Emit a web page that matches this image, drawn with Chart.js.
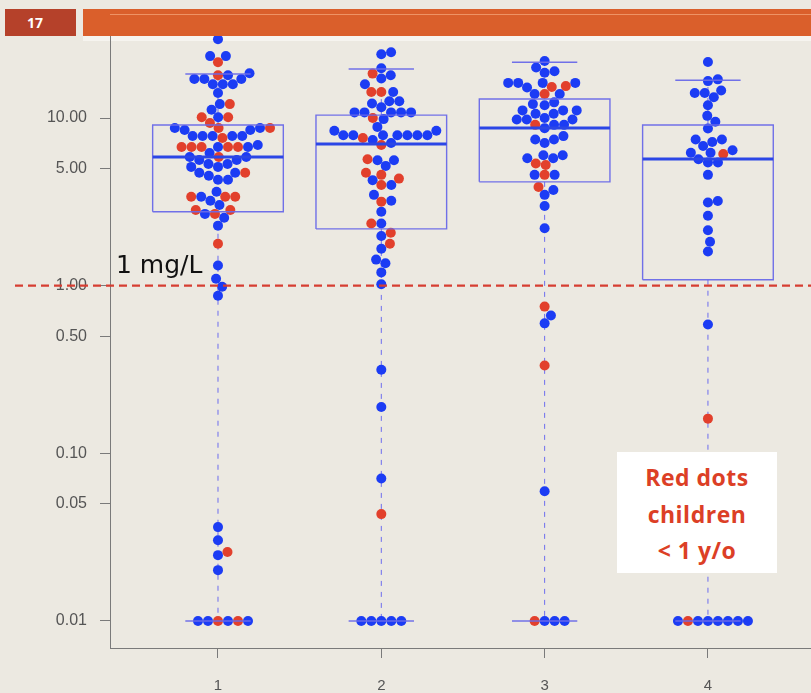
<!DOCTYPE html>
<html>
<head>
<meta charset="utf-8">
<script src="https://cdn.jsdelivr.net/npm/chart.js@4.4.1/dist/chart.umd.min.js"></script>
<style>
  html, body { margin:0; padding:0; background:#ece9e1; }
  #wrap { position:relative; width:811px; height:693px; overflow:hidden; background:#ece9e1; }
  canvas { position:absolute; left:0; top:0; z-index:1; }
  #numbox { position:absolute; left:5px; top:9px; width:71px; height:27px; background:#b5412a; color:#fff;
            font:bold 14px "Open Sans", sans-serif; line-height:27px; padding-left:22px; box-sizing:border-box; z-index:3; }
  #bar { position:absolute; left:83px; top:9px; right:0; height:27px; background:#da5f2b; z-index:3; }
  #barline { position:absolute; left:110px; top:14px; right:0; height:1px; background:rgba(255,190,150,0.55); z-index:4; }
  #white { position:absolute; left:83px; top:36px; right:0; height:5px; background:#f6f4ef; z-index:0; }
  #legend { position:absolute; left:617px; top:452px; width:160px; height:121px; background:#ffffff; z-index:3;
            color:#dc3f26; font:bold 23px "Open Sans", sans-serif; text-align:center; line-height:36.5px;
            padding-top:7px; box-sizing:border-box; letter-spacing:0.5px; }
</style>
</head>
<body>
<div id="wrap">
  <div id="white"></div>
  <canvas id="c" width="811" height="693"></canvas>
  <div id="numbox">17</div>
  <div id="bar"></div>
  <div id="barline"></div>
  <div id="legend">Red dots<br>children<br>&lt; 1 y/o</div>
</div>
<script>
// ---------------- data ----------------
const categories = ['1', '2', '3', '4'];
const yTickValues = [0.01, 0.05, 0.1, 0.5, 1, 5, 10];
const thresholdValue = 1;          // 1 mg/L reference line
const thresholdLabel = '1 mg/L';

// values per group (ascending), and colour flags: R = child < 1 y/o, B = other
const g1Values = [0.01,0.01,0.01,0.01,0.01,0.01, 0.0201,0.0247,0.0258,0.0303,0.0363,
  0.87,0.986,1.10,1.32,1.78,2.28, 2.54,2.68,2.68,2.83,2.83,3.03,3.21,
  3.39,3.39,3.39,3.39, 3.63, 4.28,4.28, 4.52, 4.71,4.71,4.71, 5.11,5.11, 5.32,5.32, 5.62,5.62,
  5.86,5.86,5.86, 6.19, 6.72,6.72,6.72,6.72,6.72,6.72,6.72, 6.91, 7.60, 7.81,7.81,7.81,7.81,7.81,
  8.48,8.48, 8.72,8.72,8.72,8.72, 9.34, 10.1,10.1,10.1, 11.2, 12.1,12.1, 14.1,
  15.9,15.9,15.9, 17.1,17.1,17.1, 18.0,18.0, 18.5, 21.5, 23.4,23.4, 29.5];
const g1Colors = ['R','B','B','R','B','B', 'B','B','R','B','B',
  'B','B','B','B','R','B', 'B','R','B','R','R','B','B',
  'R','B','R','R', 'B', 'B','B', 'B', 'B','B','R', 'B','B', 'B','B', 'B','B',
  'R','B','B', 'B', 'B','R','R','R','R','B','R', 'B', 'R', 'B','B','B','B','B',
  'B','B', 'R','B','B','R', 'R', 'B','R','R', 'B', 'B','R', 'B',
  'B','B','B', 'B','B','B', 'R','B', 'B', 'R', 'B','B', 'B'];

const g2Values = [0.01,0.01,0.01,0.01,0.01, 0.0434,0.0707,0.189,0.315,
  1.02,1.2,1.36,1.43,1.66,1.78,1.98,2.07,2.35,2.35,
  2.76,3.17,3.21,3.48,3.98,3.98,4.26,4.35,4.58,4.72,
  5.18,5.6,5.6,5.67, 6.9,7.1,7.4,7.6, 7.9,7.9,7.9,7.9,7.9,7.9,7.9,
  8.4,8.4,8.85, 9.85,10.0, 10.8,10.8,10.8,10.8,10.8, 11.6,12.2,12.6,12.6,
  14.3,14.3,14.3, 15.9,17.2,18.0,18.4,19.8,24.0,24.7];
const g2Colors = ['B','B','B','B','B', 'R','B','B','B',
  'B','B','B','B','B','R','B','R','B','R',
  'B','R','B','B','R','B','B','R','R','R',
  'B','B','B','R', 'R','B','B','R', 'B','B','B','B','B','B','B',
  'B','B','B', 'B','R', 'B','B','B','B','B', 'B','B','B','B',
  'R','R','B', 'B','B','B','R','B','B','B'];

const g3Values = [0.01,0.01,0.01,0.01, 0.0594,0.334,0.596,0.663,0.75,
  2.2,2.99,3.48,3.72,3.88, 4.58,4.58,4.58, 5.25,5.35, 5.75,5.75,6.0,6.0,
  7.1,7.45,7.45,7.8, 8.7,9.1,9.1,9.1, 9.8,9.8,9.8,10.0, 10.6,10.6,11.1,11.1,11.1,
  11.9,12.1,12.4, 13.9,13.9,13.9, 15.2,15.3,15.5,16.2,16.2,16.2,16.2, 18.6,19.0,20.0,21.9];
const g3Colors = ['B','B','R','B', 'B','R','B','B','R',
  'B','B','B','B','R', 'R','B','B', 'R','R', 'B','B','B','B',
  'B','B','B','B', 'B','B','R','B', 'B','B','B','B', 'B','B','B','B','B',
  'B','B','B', 'R','B','B', 'B','R','R','B','B','B','B', 'B','B','B','B'];

const g4Values = [0.01,0.01,0.01,0.01,0.01,0.01,0.01,0.01, 0.161,0.586,
  1.6,1.83,2.14,2.61,3.13,3.2,4.58, 5.43,5.43,5.67, 6.1,6.2,6.2,6.42,
  6.8,7.2,7.45,7.45, 8.66,9.5,10.3,11.9, 13.3,14.1,14.1,14.6, 16.6,17.0,21.6];
const g4Colors = ['B','B','B','B','R','B','B','B', 'R','B',
  'B','B','B','B','B','B','B', 'B','B','B', 'R','B','B','B',
  'B','B','B','B', 'B','B','B','B', 'B','B','B','B', 'B','B','B'];

// box-plot statistics
const boxLow    = [0.01, 0.01, 0.01, 0.01];
const boxQ1     = [2.76, 2.18, 4.16, 1.085];
const boxMedian = [5.86, 7.0, 8.72, 5.70];
const boxQ3     = [9.09, 10.4, 12.97, 9.09];
const boxHigh   = [18.3, 19.6, 21.5, 16.8];

// ---------------- styles ----------------
const BLUE = '#1c3cf4';
const RED = '#e2402c';
const BOXC = 'rgba(105,105,232,0.95)';
const MEDC = '#2b46e6';
const WHISK = 'rgba(95,95,240,0.9)';
const AXISC = '#7a7a7a';
const LABELC = '#555555';
const DOT = 10;   // dot diameter in px for swarm spacing

const groups = [
  {v: g1Values, c: g1Colors},
  {v: g2Values, c: g2Colors},
  {v: g3Values, c: g3Colors},
  {v: g4Values, c: g4Colors}
];

const refLinePlugin = {
  id: 'refLine',
  afterDraw(chart) {
    const ctx = chart.ctx, y = chart.scales.y.getPixelForValue(thresholdValue);
    const a = chart.chartArea;
    ctx.save();
    ctx.strokeStyle = 'rgb(214,62,50)';
    ctx.lineWidth = 2.4;
    ctx.setLineDash([8, 5]);
    ctx.beginPath();
    ctx.moveTo(15, y);
    ctx.lineTo(chart.width, y);
    ctx.stroke();
    ctx.setLineDash([]);
    ctx.fillStyle = '#111';
    ctx.font = '25px "DejaVu Sans", sans-serif';
    ctx.textBaseline = 'alphabetic';
    ctx.textAlign = 'left';
    ctx.fillText(thresholdLabel, a.left + 6, y - 13);
    ctx.restore();
  }
};

const ctx = document.getElementById('c').getContext('2d');
const chart = new Chart(ctx, {
  type: 'scatter',
  data: { datasets: [] },
  options: {
    responsive: false,
    animation: false,
    events: [],
    layout: { autoPadding: false, padding: { top: 15, left: 0, right: 0, bottom: 0 } },
    plugins: { legend: { display: false }, tooltip: { enabled: false } },
    scales: {
      x: {
        type: 'linear', min: 0.3388, max: 4.631,
        afterFit: s => { s.height = 45; s.paddingLeft = 0; s.paddingRight = 0; },
        afterBuildTicks: s => { s.ticks = categories.map((c, i) => ({ value: i + 1 })); },
        grid: { drawOnChartArea: false, drawTicks: true, tickLength: 10, color: AXISC },
        border: { display: true, color: AXISC, width: 1 },
        ticks: { color: LABELC, padding: 19, font: { family: '"Liberation Sans", Arial, sans-serif', size: 15 },
                 callback: v => categories[Math.round(v) - 1] }
      },
      y: {
        type: 'logarithmic', min: 0.0069, max: 41.15,
        afterFit: s => { s.width = 110; s.paddingTop = 0; s.paddingBottom = 0; },
        afterBuildTicks: s => { s.ticks = yTickValues.map(v => ({ value: v })); },
        grid: { drawOnChartArea: false, drawTicks: true, tickLength: 10, color: AXISC },
        border: { display: true, color: AXISC, width: 1 },
        ticks: { color: LABELC, padding: 13, font: { family: '"Liberation Sans", Arial, sans-serif', size: 16 },
                 callback: v => Number(v).toFixed(2) }
      }
    }
  },
  plugins: [refLinePlugin]
});

function swarm(values, colors, ys) {
  const pts = values.map((v, i) => ({ v, red: colors[i] === 'R', py: ys.getPixelForValue(v), off: 0 }));
  const order = pts.slice().sort((a, b) => a.v - b.v);
  const placed = [];
  for (const p of order) {
    const near = placed.filter(q => Math.abs(q.py - p.py) < DOT);
    if (near.length) {
      near.sort((a, b) => Math.abs(a.off) - Math.abs(b.off));
      const cands = [0];
      near.forEach(q => { const dy = p.py - q.py; cands.push(q.off + Math.sqrt(DOT * DOT - dy * dy)); });
      near.forEach(q => { const dy = p.py - q.py; cands.push(q.off - Math.sqrt(DOT * DOT - dy * dy)); });
      let best = 0, bestAbs = Infinity;
      for (const c of cands) {
        const bad = near.some(q => (c - q.off) ** 2 + (p.py - q.py) ** 2 < 0.999 * DOT * DOT);
        if (!bad && Math.abs(c) < bestAbs) { bestAbs = Math.abs(c); best = c; }
      }
      p.off = best;
    }
    placed.push(p);
  }
  return pts;
}

function buildDatasets() {
  const xs = chart.scales.x, ys = chart.scales.y;
  const pxPerUnit = xs.getPixelForValue(1) - xs.getPixelForValue(0);
  const blue = [], red = [];
  groups.forEach((g, gi) => {
    swarm(g.v, g.c, ys).forEach(p => {
      const pt = { x: gi + 1 + p.off / pxPerUnit, y: p.v };
      (p.red ? red : blue).push(pt);
    });
  });
  const ds = [];
  const line = (data, color, width, dash) => ({
    data, showLine: true, borderColor: color, borderWidth: width, borderDash: dash || [],
    pointRadius: 0, fill: false, tension: 0
  });
  const HW = 0.4, CW = 0.2;
  categories.forEach((c, i) => {
    const x = i + 1;
    ds.push(line([{x: x - HW, y: boxMedian[i]}, {x: x + HW, y: boxMedian[i]}], MEDC, 3));
    ds.push(line([{x: x - HW, y: boxQ1[i]}, {x: x + HW, y: boxQ1[i]}, {x: x + HW, y: boxQ3[i]},
                  {x: x - HW, y: boxQ3[i]}, {x: x - HW, y: boxQ1[i]}], BOXC, 1.4));
    ds.push(line([{x: x - CW, y: boxHigh[i]}, {x: x + CW, y: boxHigh[i]}], BOXC, 1.4));
    ds.push(line([{x: x - CW, y: boxLow[i]}, {x: x + CW, y: boxLow[i]}], BOXC, 1.4));
  });
  ds.push({ data: red, pointRadius: 5, pointBorderWidth: 0, backgroundColor: RED, borderColor: RED, showLine: false });
  ds.push({ data: blue, pointRadius: 5, pointBorderWidth: 0, backgroundColor: BLUE, borderColor: BLUE, showLine: false });
  categories.forEach((c, i) => {
    const x = i + 1;
    ds.push(line([{x, y: boxQ3[i]}, {x, y: boxHigh[i]}], WHISK, 1, [5, 6]));
    ds.push(line([{x, y: boxQ1[i]}, {x, y: boxLow[i]}], WHISK, 1, [5, 6]));
  });
  chart.data.datasets = ds;
  chart.update('none');
}
buildDatasets();
</script>
</body>
</html>
